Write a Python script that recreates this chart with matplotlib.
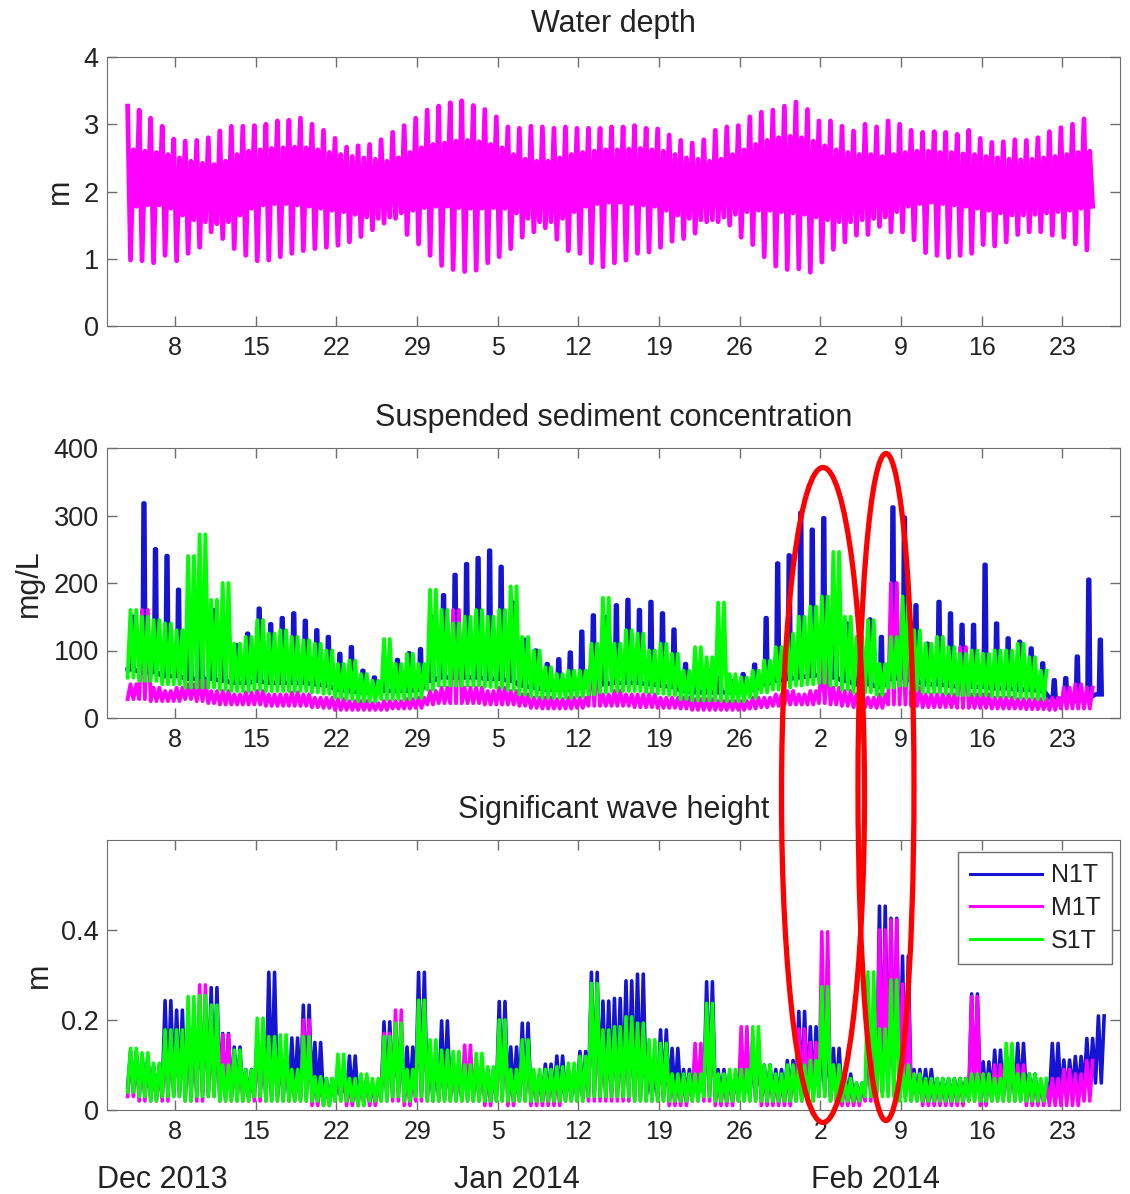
import numpy as np
import matplotlib
matplotlib.use('Agg')
import matplotlib.pyplot as plt
import matplotlib.dates as mdates
from matplotlib.patches import Ellipse

plt.rcParams['font.family'] = ['Liberation Sans', 'DejaVu Sans']

# first day of the records, one value per day
start = np.datetime64('2013-12-03T21:00')

# water depth (m): higher high, lower low, lower high, higher low per day
depth_hh = [3.27, 3.21, 3.09, 2.97, 2.78, 2.75, 2.76, 2.80, 2.90, 2.97,
            2.97, 2.98, 3.00, 3.05, 3.06, 3.09, 3.00, 2.91, 2.79, 2.66,
            2.68, 2.70, 2.77, 2.88, 2.98, 3.09, 3.21, 3.27, 3.32, 3.35,
            3.28, 3.22, 3.11, 2.96, 2.94, 2.97, 2.96, 2.94, 2.96, 2.94,
            2.94, 2.94, 2.96, 2.96, 2.98, 2.94, 2.93, 2.84, 2.76, 2.72,
            2.77, 2.91, 2.96, 2.98, 3.11, 3.18, 3.21, 3.27, 3.33, 3.22,
            3.05, 3.05, 2.97, 2.90, 3.00, 2.96, 3.05, 3.00, 2.91, 2.88,
            2.89, 2.88, 2.85, 2.91, 2.79, 2.73, 2.74, 2.77, 2.76, 2.80,
            2.89, 2.95, 3.00, 3.08]
depth_ll = [0.98, 0.97, 0.94, 1.05, 0.97, 1.08, 1.17, 1.40, 1.30, 1.15,
            1.05, 0.97, 0.98, 1.03, 1.08, 1.12, 1.15, 1.17, 1.20, 1.25,
            1.33, 1.43, 1.53, 1.60, 1.36, 1.22, 1.05, 0.90, 0.84, 0.81,
            0.83, 0.94, 1.03, 1.15, 1.32, 1.40, 1.46, 1.29, 1.12, 1.08,
            0.94, 0.88, 0.94, 0.98, 1.08, 1.10, 1.17, 1.26, 1.30, 1.38,
            1.55, 1.55, 1.50, 1.32, 1.21, 1.03, 0.89, 0.84, 0.85, 0.80,
            0.95, 1.14, 1.25, 1.35, 1.36, 1.48, 1.40, 1.40, 1.28, 1.09,
            1.05, 1.02, 1.05, 1.08, 1.21, 1.19, 1.25, 1.36, 1.40, 1.40,
            1.35, 1.32, 1.22, 1.13]
depth_lh = [2.62, 2.60, 2.58, 2.55, 2.50, 2.45, 2.42, 2.40, 2.45, 2.55,
            2.60, 2.62, 2.64, 2.65, 2.66, 2.65, 2.62, 2.58, 2.55, 2.52,
            2.50, 2.48, 2.45, 2.50, 2.58, 2.65, 2.70, 2.72, 2.75, 2.76,
            2.74, 2.70, 2.65, 2.55, 2.48, 2.45, 2.45, 2.50, 2.55, 2.58,
            2.60, 2.62, 2.62, 2.63, 2.64, 2.62, 2.60, 2.55, 2.50, 2.48,
            2.45, 2.48, 2.55, 2.62, 2.70, 2.76, 2.80, 2.82, 2.80, 2.75,
            2.68, 2.62, 2.58, 2.55, 2.55, 2.52, 2.55, 2.58, 2.60, 2.60,
            2.58, 2.58, 2.56, 2.55, 2.52, 2.50, 2.48, 2.47, 2.48, 2.50,
            2.52, 2.55, 2.58, 2.60]
depth_hl = [1.78, 1.80, 1.80, 1.75, 1.65, 1.58, 1.55, 1.52, 1.55, 1.65,
            1.75, 1.80, 1.82, 1.82, 1.80, 1.78, 1.75, 1.72, 1.70, 1.66,
            1.62, 1.60, 1.62, 1.68, 1.72, 1.76, 1.78, 1.78, 1.76, 1.75,
            1.75, 1.76, 1.75, 1.68, 1.60, 1.55, 1.55, 1.60, 1.70, 1.78,
            1.82, 1.84, 1.84, 1.82, 1.80, 1.78, 1.72, 1.65, 1.60, 1.58,
            1.58, 1.62, 1.66, 1.70, 1.72, 1.72, 1.70, 1.68, 1.66, 1.62,
            1.58, 1.55, 1.55, 1.58, 1.60, 1.62, 1.70, 1.78, 1.82, 1.84,
            1.82, 1.80, 1.78, 1.75, 1.72, 1.68, 1.65, 1.65, 1.66, 1.68,
            1.70, 1.72, 1.75, 1.78]

nan = np.nan
# suspended sediment concentration (mg/L), daily peak and base
n1t_ssc_hi = [150, 318, 250, 240, 190, 150, 162, 160, 131, 108,
              125, 162, 139, 148, 155, 144, 130, 120, 95, 105,
              70, 60, 70, 86, 96, 102, 150, 182, 212, 228,
              237, 248, 224, 171, 116, 100, 80, 87, 97, 128,
              152, 150, 167, 175, 160, 172, 155, 131, 80, 70,
              70, 60, 55, 65, 79, 148, 229, 241, 304, 279,
              296, 160, 140, 100, 146, 120, 312, 297, 167, 110,
              172, 155, 138, 138, 227, 140, 118, 113, 103, 81,
              56, 59, 91, 205, 116]
n1t_ssc_lo = [72, 68, 68, 62, 62, 58, 58, 58, 55, 52,
              52, 55, 52, 52, 52, 52, 50, 48, 42, 40,
              38, 38, 40, 40, 40, 42, 55, 60, 60, 60,
              60, 58, 58, 55, 48, 45, 42, 42, 42, 45,
              48, 50, 52, 52, 52, 50, 48, 46, 40, 38,
              38, 38, 38, 38, 42, 50, 55, 58, 60, 62,
              65, 60, 55, 50, 50, 46, 58, 60, 55, 50,
              50, 48, 46, 46, 46, 44, 44, 42, 42, 40,
              30, 28, 25, 30, 35]
m1t_ssc_hi = [50, 160, 45, 40, 45, 50, 55, 40, 40, 35,
              38, 40, 35, 35, 38, 35, 30, 30, 28, 25,
              25, 22, 25, 25, 28, 30, 40, 45, 160, 45,
              45, 40, 45, 40, 35, 30, 30, 28, 30, 30,
              95, 35, 40, 35, 35, 35, 30, 30, 30, 28,
              28, 25, 25, 25, 30, 30, 35, 40, 35, 40,
              90, 45, 40, 35, 30, 35, 200, 150, 45, 35,
              35, 35, 105, 35, 35, 30, 30, 28, 28, 28,
              30, 45, 50, 45, nan]
m1t_ssc_lo = [28, 28, 25, 25, 25, 28, 25, 22, 20, 20,
              20, 20, 18, 18, 18, 18, 16, 15, 12, 12,
              12, 12, 12, 14, 14, 15, 20, 22, 22, 22,
              22, 20, 20, 20, 18, 15, 14, 14, 14, 15,
              18, 18, 18, 18, 16, 16, 15, 15, 14, 12,
              12, 12, 12, 12, 14, 16, 18, 20, 20, 20,
              22, 20, 18, 16, 16, 15, 20, 20, 18, 16,
              16, 16, 15, 15, 15, 14, 14, 14, 13, 13,
              12, 14, 14, 14, nan]
s1t_ssc_hi = [160, 150, 145, 140, 130, 240, 272, 175, 200, 110,
              120, 145, 125, 130, 120, 115, 110, 100, 80, 85,
              65, 55, 117, 80, 95, 80, 190, 160, 140, 150,
              160, 150, 160, 195, 120, 100, 75, 65, 70, 70,
              110, 178, 110, 130, 125, 100, 110, 95, 70, 105,
              90, 171, 65, 60, 70, 85, 105, 125, 150, 165,
              180, 246, 150, 120, 145, 80, 120, 180, 130, 110,
              120, 105, 95, 100, 95, 100, 100, 110, 90, 70,
              nan, nan, nan, nan, nan]
s1t_ssc_lo = [60, 55, 55, 50, 50, 45, 45, 45, 42, 40,
              40, 42, 40, 40, 40, 40, 38, 36, 30, 28,
              25, 25, 28, 28, 28, 30, 42, 48, 48, 48,
              48, 46, 45, 42, 35, 32, 30, 30, 30, 32,
              35, 38, 40, 40, 40, 38, 36, 34, 28, 26,
              26, 26, 25, 25, 30, 38, 42, 45, 48, 50,
              52, 48, 42, 38, 38, 34, 45, 48, 42, 38,
              38, 36, 34, 34, 34, 32, 32, 30, 30, 28,
              nan, nan, nan, nan, nan]

# significant wave height (m), daily peak and base
n1t_hs_hi = [0.13, 0.12, 0.10, 0.243, 0.222, 0.20, 0.22, 0.272, 0.17, 0.14,
             0.09, 0.16, 0.306, 0.12, 0.16, 0.233, 0.15, 0.07, 0.06, 0.12,
             0.07, 0.06, 0.196, 0.16, 0.14, 0.306, 0.10, 0.198, 0.11, 0.10,
             0.10, 0.09, 0.241, 0.14, 0.193, 0.08, 0.102, 0.12, 0.08, 0.13,
             0.306, 0.242, 0.248, 0.287, 0.302, 0.08, 0.178, 0.137, 0.09, 0.12,
             0.285, 0.09, 0.08, 0.10, 0.12, 0.10, 0.09, 0.11, 0.219, 0.185,
             0.159, 0.137, 0.08, 0.06, 0.15, 0.453, 0.426, 0.342, 0.09, 0.09,
             0.07, 0.07, 0.07, 0.258, 0.107, 0.133, 0.127, 0.148, 0.08, 0.06,
             0.148, 0.111, 0.119, 0.159, 0.209]
n1t_hs_lo = [0.05, 0.04, 0.03, 0.04, 0.04, 0.03, 0.04, 0.04, 0.03, 0.03,
             0.03, 0.04, 0.03, 0.03, 0.03, 0.03, 0.03, 0.02, 0.03, 0.03,
             0.02, 0.03, 0.03, 0.04, 0.03, 0.04, 0.03, 0.03, 0.03, 0.03,
             0.03, 0.03, 0.03, 0.03, 0.03, 0.03, 0.03, 0.03, 0.03, 0.03,
             0.04, 0.04, 0.04, 0.04, 0.03, 0.03, 0.03, 0.03, 0.03, 0.03,
             0.04, 0.03, 0.03, 0.03, 0.03, 0.03, 0.03, 0.03, 0.03, 0.03,
             0.04, 0.03, 0.03, 0.03, 0.04, 0.04, 0.04, 0.03, 0.03, 0.03,
             0.03, 0.03, 0.03, 0.03, 0.03, 0.03, 0.03, 0.03, 0.03, 0.03,
             0.03, 0.03, 0.04, 0.05, 0.06]
m1t_hs_hi = [0.12, 0.11, 0.09, 0.16, 0.17, 0.20, 0.278, 0.20, 0.167, 0.12,
             0.08, 0.159, 0.15, 0.14, 0.08, 0.20, 0.07, 0.06, 0.10, 0.06,
             0.07, 0.06, 0.17, 0.222, 0.08, 0.24, 0.14, 0.11, 0.10, 0.144,
             0.11, 0.08, 0.19, 0.08, 0.14, 0.08, 0.08, 0.08, 0.09, 0.10,
             0.27, 0.16, 0.17, 0.19, 0.18, 0.14, 0.13, 0.07, 0.07, 0.148,
             0.20, 0.07, 0.08, 0.185, 0.15, 0.09, 0.07, 0.09, 0.18, 0.15,
             0.396, 0.10, 0.06, 0.05, 0.20, 0.40, 0.422, 0.28, 0.08, 0.06,
             0.06, 0.06, 0.07, 0.252, 0.08, 0.10, 0.12, 0.10, 0.07, 0.06,
             0.07, 0.09, 0.08, 0.11, nan]
m1t_hs_lo = [0.03, 0.02, 0.02, 0.02, 0.03, 0.02, 0.02, 0.03, 0.02, 0.02,
             0.02, 0.02, 0.02, 0.02, 0.02, 0.02, 0.01, 0.01, 0.02, 0.01,
             0.01, 0.01, 0.02, 0.02, 0.01, 0.02, 0.02, 0.02, 0.02, 0.02,
             0.02, 0.01, 0.02, 0.01, 0.02, 0.01, 0.01, 0.01, 0.02, 0.02,
             0.02, 0.02, 0.02, 0.02, 0.02, 0.02, 0.02, 0.01, 0.01, 0.02,
             0.02, 0.01, 0.01, 0.02, 0.02, 0.01, 0.01, 0.01, 0.02, 0.02,
             0.03, 0.02, 0.01, 0.01, 0.02, 0.04, 0.04, 0.03, 0.02, 0.01,
             0.01, 0.01, 0.01, 0.02, 0.01, 0.02, 0.02, 0.02, 0.01, 0.01,
             0.01, 0.01, 0.01, 0.02, nan]
s1t_hs_hi = [0.137, 0.127, 0.104, 0.178, 0.178, 0.252, 0.254, 0.233, 0.10, 0.133,
             0.089, 0.204, 0.163, 0.167, 0.09, 0.163, 0.074, 0.07, 0.124, 0.07,
             0.08, 0.07, 0.163, 0.193, 0.09, 0.244, 0.156, 0.133, 0.13, 0.10,
             0.126, 0.096, 0.20, 0.09, 0.156, 0.09, 0.09, 0.096, 0.104, 0.119,
             0.281, 0.178, 0.185, 0.207, 0.193, 0.156, 0.148, 0.08, 0.08, 0.08,
             0.237, 0.08, 0.09, 0.09, 0.185, 0.10, 0.08, 0.10, 0.10, 0.11,
             0.274, 0.10, 0.07, 0.06, 0.307, 0.18, 0.289, 0.10, 0.08, 0.07,
             0.07, 0.07, 0.07, 0.08, 0.08, 0.07, 0.148, 0.08, 0.08, 0.07,
             nan, nan, nan, nan, nan]
s1t_hs_lo = [0.04, 0.03, 0.02, 0.03, 0.03, 0.02, 0.03, 0.03, 0.02, 0.02,
             0.02, 0.03, 0.02, 0.02, 0.02, 0.02, 0.02, 0.01, 0.02, 0.02,
             0.01, 0.02, 0.02, 0.03, 0.02, 0.03, 0.02, 0.02, 0.02, 0.02,
             0.02, 0.02, 0.02, 0.02, 0.02, 0.02, 0.02, 0.02, 0.02, 0.02,
             0.03, 0.03, 0.03, 0.03, 0.02, 0.02, 0.02, 0.02, 0.02, 0.02,
             0.03, 0.02, 0.02, 0.02, 0.02, 0.02, 0.02, 0.02, 0.02, 0.02,
             0.03, 0.02, 0.02, 0.02, 0.03, 0.03, 0.03, 0.02, 0.02, 0.02,
             0.02, 0.02, 0.02, 0.02, 0.02, 0.02, 0.02, 0.02, 0.02, 0.02,
             nan, nan, nan, nan, nan]

stations = ['N1T', 'M1T', 'S1T']
colors = ['#1414d2', '#ff00ff', '#00ff00']
month_labels = ['Dec 2013', 'Jan 2014', 'Feb 2014']


def daily_series(values, hours):
    # values: per-day arrays, the k-th one placed at hours[k] of each day
    vals = np.column_stack([np.asarray(v, dtype=float) for v in values]).ravel()
    nday = len(values[0])
    hrs = (np.arange(nday)[:, None] * 24 + np.array(hours)).ravel()
    return start + hrs.astype('timedelta64[m]') * 60, vals


def band(hi, lo):
    # two tides a day, zig-zag between base and peak
    return daily_series([lo, hi, lo, hi], [0, 6, 12, 18])


def spikes(hi, lo):
    # one narrow burst a day
    return daily_series([lo, lo, hi, hi, lo], [0, 7, 9, 11, 13])


W, H = 1130, 1194
fig = plt.figure(figsize=(W / 100, H / 100), dpi=100)
axes = []
for top, bot in [(57, 326), (448, 718), (840, 1110)]:
    axes.append(fig.add_axes([107 / W, 1 - bot / H, 1013 / W, (bot - top) / H]))

frame_col = '#6e6e6e'
text_col = '#222222'
for ax in axes:
    ax.set_xlim(np.datetime64('2013-12-02T02:00'), np.datetime64('2014-02-28T00:00'))
    ax.xaxis.set_major_locator(mdates.WeekdayLocator(byweekday=mdates.SU))
    ax.xaxis.set_major_formatter(plt.FuncFormatter(lambda x, pos: str(mdates.num2date(x).day)))
    ax.tick_params(direction='in', top=True, right=True, length=7, width=1,
                   color=frame_col, labelcolor=text_col)
    ax.tick_params(axis='x', labelsize=18, pad=7)
    ax.tick_params(axis='y', labelsize=19.5, pad=6)
    for sp in ax.spines.values():
        sp.set_color(frame_col)

# water depth
t, v = daily_series([depth_hh, depth_ll, depth_lh, depth_hl], [0, 6, 12, 18])
axes[0].plot(t, v, color='#ff00ff', lw=3.4)
axes[0].set_ylim(0, 4)
axes[0].set_yticks([0, 1, 2, 3, 4])
axes[0].set_ylabel('m', fontsize=22, color=text_col)
axes[0].yaxis.set_label_coords(-0.032, 0.5)
axes[0].set_title('Water depth', fontsize=22, color=text_col, pad=18)

# suspended sediment concentration
t, v = spikes(n1t_ssc_hi, n1t_ssc_lo)
axes[1].plot(t, v, color=colors[0], lw=3.2, label=stations[0])
t, v = band(m1t_ssc_hi, m1t_ssc_lo)
axes[1].plot(t, v, color=colors[1], lw=2.8, label=stations[1])
t, v = band(s1t_ssc_hi, s1t_ssc_lo)
axes[1].plot(t, v, color=colors[2], lw=2.8, label=stations[2])
axes[1].set_ylim(0, 400)
axes[1].set_yticks([0, 100, 200, 300, 400])
axes[1].set_ylabel('mg/L', fontsize=22, color=text_col)
axes[1].yaxis.set_label_coords(-0.062, 0.5)
axes[1].set_title('Suspended sediment concentration', fontsize=22, color=text_col, pad=16)

# significant wave height
for (hi, lo), c, name in zip([(n1t_hs_hi, n1t_hs_lo), (m1t_hs_hi, m1t_hs_lo), (s1t_hs_hi, s1t_hs_lo)],
                             colors, stations):
    t, v = band(hi, lo)
    axes[2].plot(t, v, color=c, lw=2.6, label=name)
axes[2].set_ylim(0, 0.6)
axes[2].set_yticks([0, 0.2, 0.4])
axes[2].set_yticklabels(['0', '0.2', '0.4'])
axes[2].set_ylabel('m', fontsize=22, color=text_col)
axes[2].yaxis.set_label_coords(-0.052, 0.5)
axes[2].set_title('Significant wave height', fontsize=22, color=text_col, pad=16)
leg = axes[2].legend(loc='upper right', bbox_to_anchor=(1 - 8 / 1013, 1 - 12 / 270),
                     borderaxespad=0, fontsize=18, handlelength=2.9, handletextpad=0.35,
                     labelspacing=0.35, borderpad=0.45, fancybox=False, framealpha=1)
leg.get_frame().set_edgecolor(frame_col)
for line in leg.get_lines():
    line.set_linewidth(2.2)
for txt in leg.get_texts():
    txt.set_color(text_col)

# month labels below the bottom panel
for xc, lab in zip([162, 517, 875], month_labels):
    fig.text(xc / W, 1 - 1180 / H, lab, ha='center', va='center', fontsize=22, color=text_col)

# red ellipses marking the events
for cx, cy, w, h in [(823, 795, 83, 655), (886, 787, 56, 667)]:
    fig.add_artist(Ellipse((cx / W, 1 - cy / H), w / W, h / H, transform=fig.transFigure,
                           fill=False, ec='#ff0000', lw=3.8, clip_on=False))

plt.savefig('out.png', dpi=100)
